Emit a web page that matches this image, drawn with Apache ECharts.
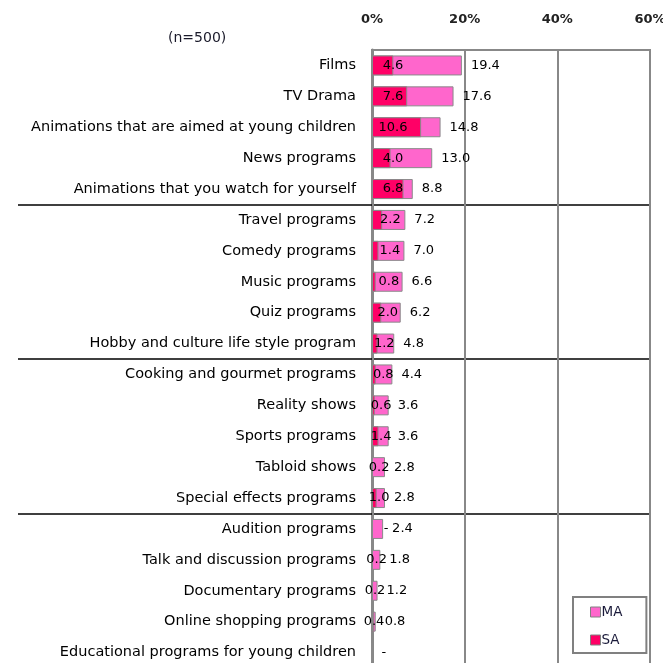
<!DOCTYPE html>
<html>
<head>
<meta charset="utf-8">
<script src="https://cdn.jsdelivr.net/npm/echarts@6/dist/echarts.min.js"></script>
<style>html,body{margin:0;padding:0;background:#fff;}#c{width:663px;height:663px;}</style>
</head>
<body>
<div id="c"></div>
<script>
const categories = [
  'Films', 'TV Drama', 'Animations that are aimed at young children', 'News programs',
  'Animations that you watch for yourself', 'Travel programs', 'Comedy programs',
  'Music programs', 'Quiz programs', 'Hobby and culture life style program',
  'Cooking and gourmet programs', 'Reality shows', 'Sports programs', 'Tabloid shows',
  'Special effects programs', 'Audition programs', 'Talk and discussion programs',
  'Documentary programs', 'Online shopping programs', 'Educational programs for young children'
];
const maValues = [19.4, 17.6, 14.8, 13.0, 8.8, 7.2, 7.0, 6.6, 6.2, 4.8, 4.4, 3.6, 3.6, 2.8, 2.8, 2.4, 1.8, 1.2, 0.8, null];
const saValues = [4.6, 7.6, 10.6, 4.0, 6.8, 2.2, 1.4, 0.8, 2.0, 1.2, 0.8, 0.6, 1.4, 0.2, 1.0, null, 0.2, 0.2, 0.4, null];
const xTicks = [0, 20, 40, 60];
const groupStarts = [5, 10, 15];
const sampleNote = '(n=500)';

const FONT = 'DejaVu Sans';
const chart = echarts.init(document.getElementById('c'), null, {renderer: 'canvas'});
const fmt = v => (v == null ? '-' : v.toFixed(1));

chart.setOption({
  animation: false,
  backgroundColor: '#fff',
  title: {
    text: sampleNote, left: 163, top: 26,
    textStyle: {fontFamily: FONT, fontSize: 14, fontWeight: 'normal', color: '#1a1a2a'}
  },
  legend: {
    orient: 'vertical', left: 573, top: 597,
    padding: [8, 24, 6, 17],
    borderColor: '#808080', borderWidth: 2, backgroundColor: '#fff',
    itemWidth: 10, itemHeight: 10, itemGap: 14,
    textStyle: {fontFamily: FONT, fontSize: 13.5, color: '#1a1a3a', padding: [0, 0, 0, -4]},
    data: [
      {name: 'MA', icon: 'rect', itemStyle: {borderColor: '#808080', borderWidth: 1}},
      {name: 'SA', icon: 'rect', itemStyle: {borderColor: '#808080', borderWidth: 1}}
    ]
  },
  grid: {
    left: 372, top: 50, width: 278, height: 618,
    outerBoundsMode: 'none', containLabel: false,
    show: true, borderColor: '#888', borderWidth: 2, backgroundColor: 'transparent'
  },
  xAxis: {
    type: 'value', position: 'top', min: xTicks[0], max: xTicks[xTicks.length - 1], interval: 20,
    axisLine: {show: true, lineStyle: {color: '#888', width: 2}},
    axisTick: {show: false},
    axisLabel: {margin: 24, formatter: '{value}%', fontFamily: FONT, fontSize: 13, color: '#222', fontWeight: 'bold'},
    splitLine: {show: true, lineStyle: {color: '#888', width: 2}}
  },
  yAxis: {
    type: 'category', inverse: true, data: categories,
    axisLine: {show: true, lineStyle: {color: '#888', width: 3}},
    axisTick: {
      show: true, length: 354, inside: false,
      interval: (i) => groupStarts.indexOf(i) >= 0,
      lineStyle: {color: '#000', width: 1.5}
    },
    splitLine: {
      show: true,
      interval: (i) => groupStarts.indexOf(i) >= 0,
      lineStyle: {color: '#000', width: 1.5}
    },
    axisLabel: {margin: 16, fontFamily: FONT, fontSize: 14.5, color: '#000'}
  },
  series: [
    {
      name: 'MA', type: 'bar', barWidth: 20, barGap: '-100%',
      itemStyle: {color: '#ff66cc', borderColor: '#8a8a8a', borderWidth: 1},
      data: maValues.map(v => (v == null ? 0 : v)),
      label: {
        show: true, position: 'right', distance: 9,
        fontFamily: FONT, fontSize: 13, color: '#000',
        formatter: p => fmt(maValues[p.dataIndex])
      },
      z: 2
    },
    {
      name: 'SA', type: 'bar', barWidth: 20, barGap: '-100%',
      itemStyle: {color: '#ff0066', borderColor: '#8a8a8a', borderWidth: 1},
      data: saValues.map(v => (v == null ? 0 : v)),
      label: {
        show: true, position: 'inside',
        fontFamily: FONT, fontSize: 13, color: '#000',
        formatter: p => (saValues[p.dataIndex] == null && maValues[p.dataIndex] == null) ? '' : fmt(saValues[p.dataIndex])
      },
      labelLayout: function (params) {
        const i = params.dataIndex;
        const ma = maValues[i] == null ? 0 : maValues[i];
        const x0 = chart.convertToPixel({xAxisIndex: 0}, 0);
        const xm = chart.convertToPixel({xAxisIndex: 0}, ma);
        const half = Math.min((xm - x0) * 0.55, 21);
        return {
          x: x0 + Math.max(half, saValues[i] == null ? 14 : 0),
          y: params.rect.y + params.rect.height / 2,
          align: 'center', verticalAlign: 'middle'
        };
      },
      z: 3
    }
  ]
});
</script>
</body>
</html>
